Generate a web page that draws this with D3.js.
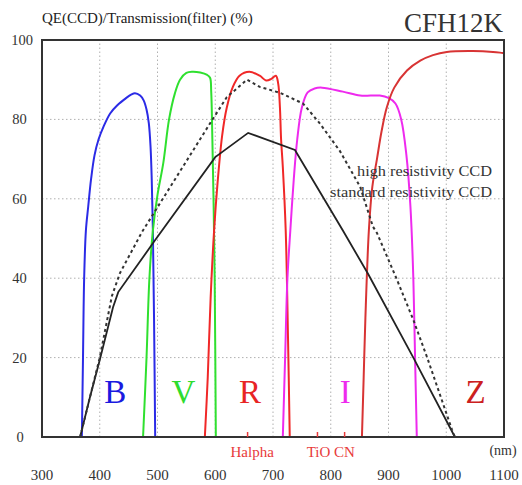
<!DOCTYPE html>
<html><head><meta charset="utf-8">
<script src="https://cdn.jsdelivr.net/npm/d3@7/dist/d3.min.js"></script>
<style>body{margin:0;background:#fff}svg{display:block}text{font-family:"Liberation Serif","DejaVu Serif",serif}</style>
</head><body><svg id="c" width="522" height="485"></svg>
<script>
// wavelength (nm), value (%)
const filterB = [[369,0],[371,20],[373,40],[376,52],[380,58],[385,65],[391,71],[398,75],[406,78],[418,81.5],[430,83.5],[445,85.3],[455,86.3],[461,86.6],[470,86],[476,84.8],[481,82.5],[485,79],[488,73],[490,65],[492,52],[494,30],[496,0]];
const filterV = [[475,0],[481,20],[486,40],[492,52],[500,61],[510,69],[520,80],[530,86.5],[539,90],[550,91.7],[560,92],[574,91.8],[586,91.2],[591,90.5],[593,87],[595,75],[597,60],[599,40],[601,0]];
const filterR = [[582,0],[587,15],[592,35],[598,52],[604,64],[612,76],[620,83],[630,88],[642,91],[659,92],[677,91],[688,89.8],[697,90.2],[705,91],[709,89],[712,83],[714,75],[717,68],[722,52],[726,25],[729,0]];
const filterI = [[717,0],[721,20],[725,40],[730,52],[736,65],[742,75],[750,83],[760,86.8],[772,87.8],[785,88],[821,87],[851,86],[885,86],[900,85.4],[912,84],[922,80],[931,71],[938,58],[943,40],[946,20],[949,0]];
const filterZ = [[854,0],[857,15],[860,30],[866,52],[872,63],[880,70],[888,77],[897,83],[910,88],[932,92.3],[955,94.8],[977,96.2],[1001,97],[1046,97.2],[1081,97],[1100,96.7]];
const ccdStandard = [[366,0],[383,10],[400,19.4],[423,32.7],[432,36.5],[496,49.6],[600,70.5],[657,76.6],[738,72.3],[821,52],[865,41],[943,20],[1015,0]];
const ccdHigh = [[366,0],[383,10],[400,20],[421,35.5],[435,41.3],[473,51.6],[591,79],[620,85.6],[655,90],[677,88.2],[712,86.7],[752,84],[781,79],[816,72],[851,63],[873,53],[880,51.4],[915,39.5],[943,29.5],[967,20],[994,8.6],[1010,1.8],[1015,0]];
const xTicks = [300,400,500,600,700,800,900,1000,1100];
const yTicks = [0,20,40,60,80,100];
const bandLetters = [["B",427],["V",545],["R",660],["I",825],["Z",1051]];
const lineMarks = [["Halpha",656],["TiO",777],["CN",824]];

const svg = d3.select("#c");
const x = d3.scaleLinear().domain([300,1100]).range([42,504]);
const y = d3.scaleLinear().domain([0,100]).range([437,40]);

// grid
svg.append("g").selectAll("line").data(xTicks.slice(1,-1)).join("line")
  .attr("x1",d=>x(d)).attr("x2",d=>x(d)).attr("y1",y(0)).attr("y2",y(100))
  .attr("stroke","#b0b0b0").attr("stroke-width",1).attr("stroke-dasharray","1.5,2.5");
svg.append("g").selectAll("line").data(yTicks.slice(1,-1)).join("line")
  .attr("y1",d=>y(d)).attr("y2",d=>y(d)).attr("x1",x(300)).attr("x2",x(1100))
  .attr("stroke","#b0b0b0").attr("stroke-width",1).attr("stroke-dasharray","1.5,2.5");

// filters
const smooth = d3.line().x(p=>x(p[0])).y(p=>y(p[1])).curve(d3.curveCatmullRom.alpha(0.5));
const filters = [[filterB,"#2b2be6"],[filterV,"#2fe02f"],[filterR,"#f02828"],[filterI,"#ee2aee"],[filterZ,"#d83434"]];
filters.forEach(([d,c])=>{
  svg.append("path").datum(d).attr("d",smooth)
    .attr("fill","none").attr("stroke",c).attr("stroke-width",2).attr("stroke-linejoin","round");
});
// CCD curves
const straight = d3.line().x(p=>x(p[0])).y(p=>y(p[1]));
svg.append("path").datum(ccdStandard).attr("d",straight)
  .attr("fill","none").attr("stroke","#222").attr("stroke-width",1.8);
svg.append("path").datum(ccdHigh).attr("d",straight)
  .attr("fill","none").attr("stroke","#333").attr("stroke-width",2).attr("stroke-dasharray","3,3");

// frame
svg.append("rect").attr("x",x(300)).attr("y",y(100)).attr("width",x(1100)-x(300)).attr("height",y(0)-y(100))
  .attr("fill","none").attr("stroke","#333").attr("stroke-width",2);

// line marks
svg.append("g").selectAll("line").data(lineMarks).join("line")
  .attr("x1",d=>x(d[1])).attr("x2",d=>x(d[1])).attr("y1",y(0)-5).attr("y2",y(0))
  .attr("stroke","#e83a3a").attr("stroke-width",1.5);
svg.append("text").attr("x",x(664)).attr("y",457).attr("text-anchor","middle").attr("fill","#e83a3a").attr("font-size",15).text("Halpha");
svg.append("text").attr("x",x(800)).attr("y",457).attr("text-anchor","middle").attr("fill","#e83a3a").attr("font-size",15).text("TiO CN");

// letters
const letterColors = {"B":"#1a1ae0","V":"#2edc2e","R":"#e82424","I":"#ee2aee","Z":"#cc2020"};
svg.append("g").selectAll("text").data(bandLetters).join("text")
  .attr("x",d=>x(d[1])).attr("y",403).attr("text-anchor","middle").attr("font-size",33)
  .attr("fill",d=>letterColors[d[0]]).text(d=>d[0]);

// ticks
svg.append("g").selectAll("text").data(xTicks).join("text")
  .attr("x",d=>x(d)).attr("y",480).attr("text-anchor","middle").attr("font-size",15).attr("fill","#333").text(d=>d);
svg.append("g").selectAll("text").data(yTicks).join("text")
  .attr("x",d=>d===0?20:(d===100?22:19.5)).attr("y",d=>y(d)+5).attr("text-anchor","middle").attr("font-size",14.5).attr("fill","#333").text(d=>d);

svg.append("text").attr("x",503).attr("y",455).attr("text-anchor","middle").attr("font-size",14).attr("fill","#333").text("(nm)");
svg.append("text").attr("x",42).attr("y",23).attr("font-size",15).attr("fill","#222").text("QE(CCD)/Transmission(filter) (%)");
svg.append("text").attr("x",503).attr("y",32).attr("text-anchor","end").attr("font-size",27).attr("fill","#333").text("CFH12K");
svg.append("text").attr("x",357).attr("y",176).attr("font-size",15.5).attr("textLength",135).attr("lengthAdjust","spacingAndGlyphs").attr("fill","#333").text("high resistivity CCD");
svg.append("text").attr("x",330).attr("y",197).attr("font-size",15.5).attr("textLength",162).attr("lengthAdjust","spacingAndGlyphs").attr("fill","#333").text("standard resistivity CCD");
</script></body></html>
